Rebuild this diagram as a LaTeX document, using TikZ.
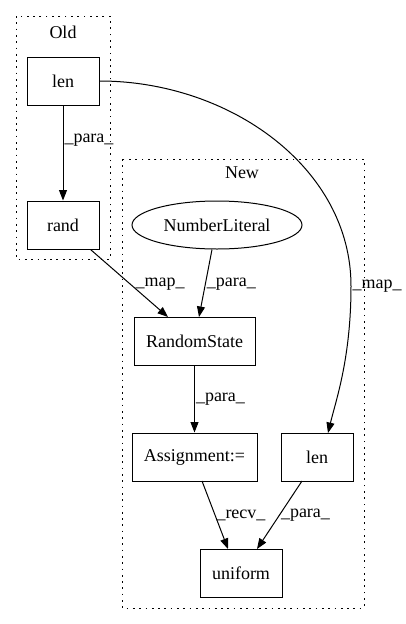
\documentclass[tikz,border=0pt]{standalone}
\usepackage{fontspec}
\setmainfont{Liberation Serif}
\usetikzlibrary{arrows.meta,shapes.geometric}
\begin{document}
\begin{tikzpicture}[x=1pt,y=-1pt,
  font=\fontsize{18}{20}\selectfont,
  box/.style={draw,line width=1pt,minimum height=48pt,inner sep=0pt},
  oval/.style={draw,line width=1pt,ellipse,minimum width=170pt,minimum height=48pt,inner sep=0pt},
  cluster/.style={draw,line width=0.85pt,dash pattern=on 1.7pt off 4.6pt},
  arr/.style={line width=1pt,-{Triangle[length=10.5pt,width=8pt]}},
  lab/.style={anchor=west,inner sep=1pt}]
\useasboundingbox (0,0) rectangle (405,624);
% clusters
\draw[cluster] (16,16) rectangle (110,259);
\node (oldlab) at (63,32) {Old};
\draw[cluster] (122,159) rectangle (364,608);
\node (newlab) at (242,173) {New};
% nodes
\node[box,minimum width=72pt] (lenold) at (63,81) {len};
\node[box,minimum width=72pt] (rand) at (63,225) {rand};
\node[oval] (num) at (217,225) {NumberLiteral};
\node[box,minimum width=121pt] (rs) at (194.5,341) {RandomState};
\node[box,minimum width=125pt] (asg) at (194.5,457) {Assignment:=};
\node[box,minimum width=72pt] (lennew) at (317,457) {len};
\node[box,minimum width=82pt] (uni) at (241,573) {uniform};
% edges
\draw[arr] (lenold) -- node[lab,pos=0.36] {\_para\_} (rand);
\draw[arr] (rand.south east) ++(-9,0) coordinate (rs0) -- node[lab,pos=0.51,xshift=4pt] {\_map\_} (168,317) coordinate (rs1);
\draw[arr] (num.south) ++(-5,0) coordinate (nm0) -- node[lab,pos=0.51] {\_para\_} (199,317) coordinate (nm1);
\draw[arr] (lenold.east) .. controls (230,81) and (351,168) .. (351,286) coordinate (mc)
  node[lab] {\_map\_}
  .. controls (351,358) and (336,400) .. (328,433) coordinate (ln1);
\draw[arr] (rs) -- node[lab,pos=0.5] {\_para\_} (asg);
\draw[arr] (202,481) coordinate (a0) -- node[lab,pos=0.5] {\_recv\_} (228,549) coordinate (a1);
\draw[arr] (302,481) coordinate (l0) -- node[lab,pos=0.5] {\_para\_} (257,549) coordinate (l1);
\end{tikzpicture}
\end{document}
